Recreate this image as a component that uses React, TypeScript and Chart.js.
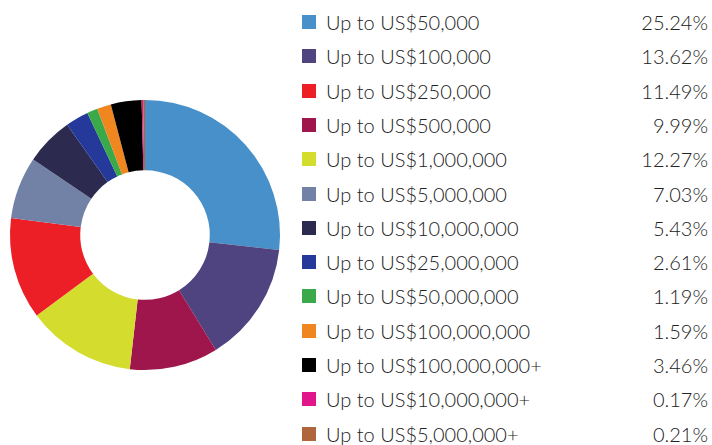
import React, { useEffect, useRef } from "react";
import { Chart, registerables } from "chart.js";

Chart.register(...registerables);

// Legend order
const categories = [
  "Up to US$50,000",
  "Up to US$100,000",
  "Up to US$250,000",
  "Up to US$500,000",
  "Up to US$1,000,000",
  "Up to US$5,000,000",
  "Up to US$10,000,000",
  "Up to US$25,000,000",
  "Up to US$50,000,000",
  "Up to US$100,000,000",
  "Up to US$100,000,000+",
  "Up to US$10,000,000+",
  "Up to US$5,000,000+",
];
const shares = [25.24, 13.62, 11.49, 9.99, 12.27, 7.03, 5.43, 2.61, 1.19, 1.59, 3.46, 0.17, 0.21];
const colors = [
  "#4790c9",
  "#504480",
  "#ec1f26",
  "#9e164b",
  "#d4dc2e",
  "#7282a6",
  "#2d2a50",
  "#25399a",
  "#39a94a",
  "#ef8620",
  "#000000",
  "#e0168a",
  "#b0663c",
];
// Order in which slices appear around the ring (indices into the arrays above)
const sliceOrder = [0, 1, 3, 4, 2, 5, 6, 7, 8, 9, 10, 11, 12];

const FONT = "Lato, 'Open Sans', sans-serif";

export default function App() {
  const ref = useRef<HTMLCanvasElement | null>(null);

  useEffect(() => {
    if (!ref.current) return;
    const chart = new Chart(ref.current, {
      type: "doughnut",
      data: {
        labels: sliceOrder.map((i) => categories[i]),
        datasets: [
          {
            data: sliceOrder.map((i) => shares[i]),
            backgroundColor: sliceOrder.map((i) => colors[i]),
            borderWidth: 0,
          },
        ],
      },
      options: {
        animation: false,
        responsive: false,
        maintainAspectRatio: false,
        cutout: "48%",
        layout: { padding: 10 },
        plugins: {
          legend: { display: false },
          tooltip: { enabled: false },
        },
      },
    });
    return () => chart.destroy();
  }, []);

  return (
    <div
      style={{
        position: "fixed",
        left: 0,
        top: 0,
        width: 712,
        height: 445,
        background: "#ffffff",
        overflow: "hidden",
        fontFamily: FONT,
      }}
    >
      <canvas
        ref={ref}
        width={290}
        height={290}
        style={{ position: "absolute", left: 0, top: 90, width: 290, height: 290 }}
      />
      {categories.map((c, i) => {
        const cy = 22 + i * 34.3;
        return (
          <div
            key={c}
            style={{
              position: "absolute",
              left: 302,
              top: cy - 12,
              width: 406,
              height: 24,
              display: "flex",
              alignItems: "center",
              fontSize: 20,
              fontWeight: 300,
              color: "#222222",
              whiteSpace: "nowrap",
            }}
          >
            <span
              style={{
                display: "inline-block",
                width: 14,
                height: 14,
                background: colors[i],
                marginRight: 10,
                flex: "0 0 auto",
              }}
            />
            <span style={{ flex: "1 1 auto" }}>{c}</span>
            <span style={{ flex: "0 0 auto", textAlign: "right" }}>
              {shares[i].toFixed(2)}%
            </span>
          </div>
        );
      })}
    </div>
  );
}
